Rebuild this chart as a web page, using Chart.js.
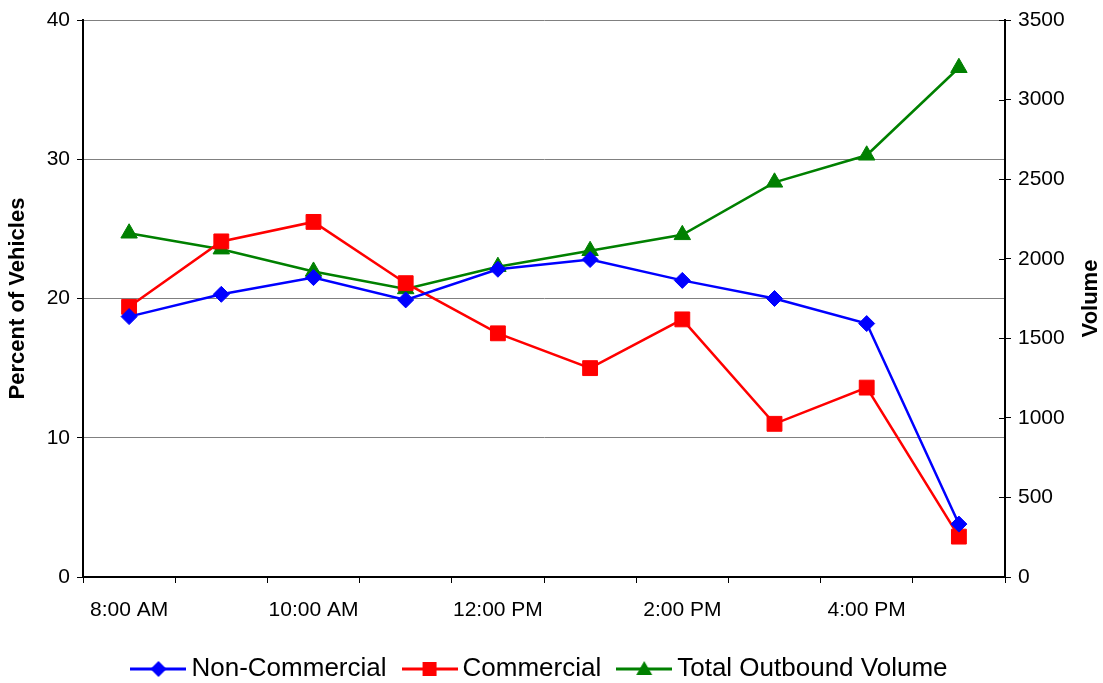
<!DOCTYPE html>
<html>
<head>
<meta charset="utf-8">
<title>Outbound Vehicles by Hour</title>
<script src="https://cdn.jsdelivr.net/npm/chart.js@4/dist/chart.umd.min.js"></script>
<style>
  html, body { margin: 0; padding: 0; background: #fff; }
  #wrap { width: 1103px; height: 683px; }
</style>
</head>
<body>
<div id="wrap"><canvas id="chart" width="1103" height="683"></canvas></div>
<script>
// Hourly categories (every other one is labelled on the axis)
const hours = ['8:00 AM', '9:00 AM', '10:00 AM', '11:00 AM', '12:00 PM',
               '1:00 PM', '2:00 PM', '3:00 PM', '4:00 PM', '5:00 PM'];

// Share of vehicles per hour (%)
const nonCommercial = [18.7, 20.3, 21.5, 19.9, 22.1, 22.8, 21.3, 20.0, 18.2, 3.8];
const commercial    = [19.4, 24.1, 25.5, 21.1, 17.5, 15.0, 18.5, 11.0, 13.6, 2.9];

// Total outbound volume per hour (vehicles)
const totalOutbound = [2160, 2060, 1920, 1810, 1950, 2050, 2150, 2480, 2650, 3200];

const FONT = "'Liberation Sans', Arial, Helvetica, sans-serif";
const BLUE = '#0000FF', RED = '#FF0000', GREEN = '#008000';

// Legend swatch: a short line with the series marker in its middle
function legendIcon(color, shape) {
  const c = document.createElement('canvas');
  c.width = 56; c.height = 20;
  const g = c.getContext('2d');
  g.strokeStyle = color; g.fillStyle = color; g.lineWidth = 3;
  g.beginPath(); g.moveTo(0, 10); g.lineTo(56, 10); g.stroke();
  g.beginPath();
  if (shape === 'diamond') {
    g.moveTo(28, 2); g.lineTo(36, 10); g.lineTo(28, 18); g.lineTo(20, 10);
  } else if (shape === 'square') {
    g.rect(21, 3, 14, 14);
  } else {
    g.moveTo(28, 2); g.lineTo(36, 16); g.lineTo(20, 16);
  }
  g.closePath(); g.fill();
  return c;
}
const icons = [legendIcon(BLUE, 'diamond'), legendIcon(RED, 'square'), legendIcon(GREEN, 'triangle')];

// Tick marks on the right axis that also reach into the plot
const innerTicks = {
  id: 'innerTicks',
  afterDraw(chart) {
    const s = chart.scales.y1, ctx = chart.ctx;
    ctx.save();
    ctx.strokeStyle = '#000'; ctx.lineWidth = 1;
    s.ticks.forEach(t => {
      const y = Math.round(s.getPixelForValue(t.value)) + 0.5;
      ctx.beginPath(); ctx.moveTo(chart.chartArea.right - 6, y); ctx.lineTo(chart.chartArea.right, y); ctx.stroke();
    });
    ctx.restore();
  }
};

// Right axis title, read bottom-to-top
const rightTitle = {
  id: 'rightTitle',
  afterDraw(chart) {
    const a = chart.chartArea, ctx = chart.ctx;
    ctx.save();
    ctx.translate(1091, (a.top + a.bottom) / 2);
    ctx.rotate(-Math.PI / 2);
    ctx.font = 'bold 22px ' + FONT;
    ctx.fillStyle = '#000';
    ctx.textAlign = 'center';
    ctx.textBaseline = 'middle';
    ctx.fillText('Volume', 0, 0);
    ctx.restore();
  }
};

new Chart(document.getElementById('chart'), {
  type: 'line',
  data: {
    labels: hours,
    datasets: [
      {
        label: 'Non-Commercial', data: nonCommercial, yAxisID: 'y',
        borderColor: BLUE, backgroundColor: BLUE, borderWidth: 2.5,
        pointStyle: 'rectRot', pointRadius: 8, pointBorderWidth: 1, tension: 0
      },
      {
        label: 'Commercial', data: commercial, yAxisID: 'y',
        borderColor: RED, backgroundColor: RED, borderWidth: 2.5,
        pointStyle: 'rect', pointRadius: 10.5, pointBorderWidth: 1, tension: 0
      },
      {
        label: 'Total Outbound Volume', data: totalOutbound, yAxisID: 'y1',
        borderColor: GREEN, backgroundColor: GREEN, borderWidth: 2.5,
        pointStyle: 'triangle', pointRadius: 9.5, pointBorderWidth: 1, tension: 0
      }
    ]
  },
  options: {
    responsive: false,
    animation: false,
    layout: { padding: { top: 20, left: 0, right: 17, bottom: 0 } },
    plugins: {
      tooltip: { enabled: false },
      legend: {
        position: 'bottom',
        maxHeight: 50,
        labels: {
          usePointStyle: true,
          pointStyleWidth: 40,
          padding: 23,
          color: '#000',
          font: { family: FONT, size: 26 },
          generateLabels(chart) {
            return chart.data.datasets.map((ds, i) => ({
              text: ds.label, pointStyle: icons[i], fillStyle: ds.borderColor,
              strokeStyle: ds.borderColor, lineWidth: 0, hidden: false, datasetIndex: i,
              fontColor: '#000'
            }));
          }
        }
      }
    },
    scales: {
      x: {
        type: 'category',
        offset: true,
        grid: { offset: true, drawOnChartArea: false, tickLength: 6, tickColor: '#000' },
        border: { color: '#000', width: 2 },
        ticks: {
          autoSkip: false, maxRotation: 0, padding: 15, color: '#000',
          font: { family: FONT, size: 21 },
          callback(v, i) { return i % 2 === 0 ? this.getLabelForValue(v) : ''; }
        },
        afterFit(s) { s.height = 56; }
      },
      y: {
        position: 'left', min: 0, max: 40,
        grid: { color: '#808080', lineWidth: 1, tickLength: 6, tickColor: '#000' },
        border: { color: '#000', width: 2 },
        ticks: { stepSize: 10, padding: 7, color: '#000', font: { family: FONT, size: 21 } },
        title: {
          display: true, text: 'Percent of Vehicles', color: '#000',
          font: { family: FONT, size: 22, weight: 'bold' }, padding: { top: 5, bottom: 0 }
        },
        afterFit(s) { s.width = 83; }
      },
      y1: {
        position: 'right', min: 0, max: 3500,
        grid: { drawOnChartArea: false, tickLength: 6, tickColor: '#000' },
        border: { color: '#000', width: 2 },
        ticks: {
          stepSize: 500, padding: 7, color: '#000', font: { family: FONT, size: 21 },
          callback(v) { return String(v); }
        },
        afterFit(s) { s.width = 81; }
      }
    }
  },
  plugins: [innerTicks, rightTitle]
});
</script>
</body>
</html>
